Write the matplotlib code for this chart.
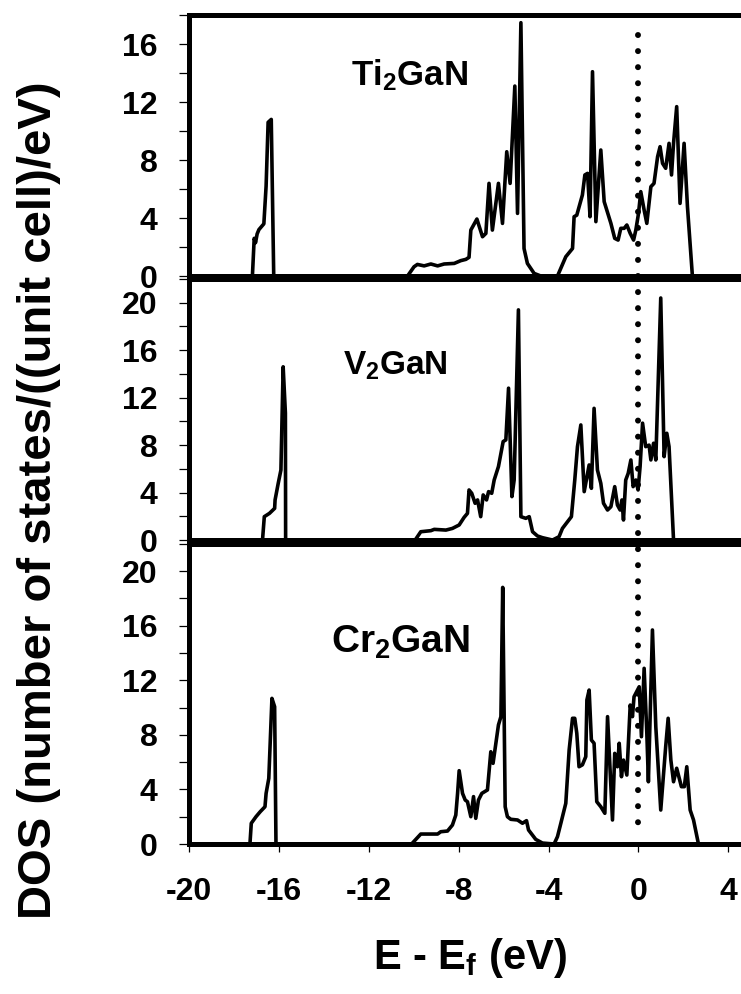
import matplotlib
matplotlib.use("Agg")
import matplotlib.pyplot as plt
from matplotlib.lines import Line2D
from matplotlib.ticker import MultipleLocator

plt.rcParams['font.family'] = ['Liberation Sans', 'DejaVu Sans']
plt.rcParams['font.weight'] = 'bold'
plt.rcParams['axes.unicode_minus'] = False
plt.rcParams['mathtext.fontset'] = 'custom'
plt.rcParams['mathtext.rm'] = 'Liberation Sans:bold'
plt.rcParams['mathtext.bf'] = 'Liberation Sans:bold'
plt.rcParams['mathtext.it'] = 'Liberation Sans:bold'
plt.rcParams['mathtext.default'] = 'regular'

# --- data (E - Ef in eV, DOS) ---
labels = ['Ti$_2$GaN', 'V$_2$GaN', 'Cr$_2$GaN']

e_ti = [-20, -17.19, -17.11, -17.05, -16.98, -16.9, -16.68, -16.58, -16.49, -16.35, -16.24,
        -10.28, -9.99, -9.84, -9.54, -9.24, -8.94, -8.65, -8.2, -7.91, -7.68,
        -7.54, -7.46, -7.19, -6.94, -6.79, -6.65, -6.5, -6.23, -6.05, -5.86,
        -5.71, -5.5, -5.38, -5.23, -5.09, -4.94, -4.64, -4.34, -3.6, -3.23,
        -2.93, -2.86, -2.74, -2.49, -2.38, -2.26, -2.15, -2.04, -1.89, -1.67,
        -1.52, -1.22, -1.05, -0.9, -0.78, -0.63, -0.51, -0.36, -0.21, -0.11,
        0.01, 0.11, 0.26, 0.38, 0.56, 0.7, 0.86, 0.97, 1.08, 1.22,
        1.37, 1.48, 1.57, 1.71, 1.86, 2.04, 2.19, 2.41, 4.6]
dos_ti = [0, 0, 2.6, 2.3, 2.9, 3.2, 3.6, 6.2, 10.6, 10.8, 0,
          0, 0.64, 0.8, 0.7, 0.83, 0.7, 0.83, 0.87, 1.06, 1.15,
          1.29, 3.17, 3.93, 2.71, 2.94, 6.39, 3.17, 6.39, 3.63, 8.57,
          6.39, 13.1, 4.32, 17.47, 1.9, 0.87, 0.18, 0, 0, 1.33,
          1.9, 4.09, 4.2, 5.59, 6.97, 7.08, 4.09, 14.09, 3.75, 8.69,
          5.13, 3.63, 2.6, 2.48, 3.29, 3.29, 3.52, 2.94, 2.48, 3.17,
          4.32, 5.82, 4.55, 3.63, 6.16, 6.39, 8.23, 8.92, 7.77, 7.43,
          9.15, 6.97, 9.15, 11.68, 5.01, 9.15, 4.78, 0, 0]

e_v = [-20, -16.74, -16.66, -16.43, -16.2, -16.18, -16.04, -15.92, -15.82, -15.72, -15.71,
       -9.94, -9.69, -9.24, -9.09, -8.57, -8.28, -7.98, -7.76, -7.61, -7.54,
       -7.42, -7.27, -7.16, -7.02, -6.91, -6.76, -6.67, -6.53, -6.42, -6.23,
       -6.02, -5.9, -5.78, -5.63, -5.53, -5.34, -5.23, -5.01, -4.86, -4.71,
       -4.49, -4.27, -3.82, -3.53, -3.38, -3.15, -2.98, -2.83, -2.71, -2.56,
       -2.41, -2.19, -2.09, -1.97, -1.82, -1.67, -1.55, -1.37, -1.22, -1.05,
       -0.93, -0.81, -0.73, -0.66, -0.56, -0.45, -0.33, -0.23, -0.11, -0.01,
       0.08, 0.19, 0.33, 0.48, 0.56, 0.68, 0.78, 1.0, 1.15, 1.27,
       1.37, 1.57, 4.6]
dos_v = [0, 0, 1.97, 2.25, 2.67, 3.38, 4.78, 5.9, 14.6, 10.7, 0,
         0, 0.7, 0.79, 0.9, 0.84, 0.98, 1.27, 1.91, 2.25, 4.22,
         3.94, 3.1, 3.38, 1.97, 3.8, 3.38, 4.08, 3.94, 5.06, 6.19,
         8.3, 8.44, 12.8, 3.66, 5.06, 19.4, 1.97, 1.83, 1.97, 0.7,
         0.34, 0.2, 0, 0.28, 0.98, 1.55, 1.97, 5.06, 7.87, 9.7,
         4.08, 6.33, 4.36, 11.1, 5.9, 4.78, 3.1, 2.53, 2.81, 4.5,
         2.95, 2.53, 3.38, 1.69, 5.06, 5.62, 6.75, 4.5, 5.06, 4.22,
         6.19, 9.85, 7.87, 8.0, 6.75, 8.16, 6.75, 20.4, 7.03, 9.0,
         7.87, 0, 0]

e_cr = [-20, -17.3, -17.24, -17.03, -16.84, -16.63, -16.58, -16.46, -16.32, -16.2, -16.14,
        -10.1, -9.69, -8.94, -8.8, -8.5, -8.28, -8.13, -8.05, -7.98, -7.83,
        -7.71, -7.61, -7.46, -7.34, -7.24, -7.12, -6.97, -6.72, -6.57, -6.47,
        -6.23, -6.12, -6.04, -5.93, -5.83, -5.68, -5.38, -5.16, -4.98, -4.89,
        -4.57, -4.27, -3.75, -3.6, -3.45, -3.23, -3.08, -2.93, -2.83, -2.74,
        -2.64, -2.49, -2.34, -2.29, -2.19, -2.09, -1.97, -1.85, -1.67, -1.49,
        -1.37, -1.15, -1.05, -0.93, -0.85, -0.75, -0.66, -0.51, -0.36, -0.26,
        -0.19, 0.04, 0.14, 0.26, 0.38, 0.45, 0.63, 0.78, 1.0, 1.15,
        1.22, 1.33, 1.45, 1.57, 1.71, 1.92, 2.05, 2.16, 2.31, 2.46,
        2.68, 4.6]
dos_cr = [0, 0, 1.52, 2.0, 2.37, 2.73, 3.71, 4.81, 10.67, 10.06, 0,
          0, 0.73, 0.73, 0.9, 0.95, 1.39, 2.12, 3.71, 5.37, 3.71,
          3.22, 3.1, 2.0, 3.47, 1.88, 3.22, 3.71, 3.96, 6.76, 5.91,
          8.72, 9.33, 18.8, 2.73, 2.0, 1.81, 1.76, 1.52, 1.71, 1.03,
          0.34, 0.07, 0, 0.54, 1.52, 2.98, 6.89, 9.21, 9.21, 8.11,
          5.66, 5.8, 6.4, 10.55, 11.28, 7.62, 7.38, 3.1, 2.73, 2.25,
          9.33, 1.76, 6.64, 5.66, 7.38, 4.93, 6.15, 5.05, 10.18, 9.33,
          10.79, 11.52, 7.86, 12.87, 8.11, 4.56, 15.68, 8.59, 2.49, 5.66,
          7.13, 9.21, 6.15, 4.56, 5.55, 4.2, 4.2, 5.66, 2.49, 1.76,
          0, 0]

energies = [e_ti, e_v, e_cr]
dos = [dos_ti, dos_v, dos_cr]
ymax = [18, 22, 22]

fig = plt.figure(figsize=(7.41, 9.94), dpi=100)

rects = [[0.2555, 0.7223, 0.7445, 0.2626],
         [0.2555, 0.4567, 0.7445, 0.2626],
         [0.2555, 0.1509, 0.7445, 0.3021]]
label_pos = [(0.553, 0.9145, 25), (0.533, 0.6227, 24), (0.540, 0.3431, 28)]

axes = []
for i in range(3):
    ax = fig.add_axes(rects[i])
    ax.plot(energies[i], dos[i], color='black', lw=2.6, solid_joinstyle='round')
    ax.set_xlim(-20, 4.575)
    ax.set_ylim(0, ymax[i])
    ax.yaxis.set_major_locator(MultipleLocator(4))
    ax.yaxis.set_minor_locator(MultipleLocator(2))
    ax.xaxis.set_major_locator(MultipleLocator(4))
    ax.tick_params(axis='y', which='both', direction='out', length=7, width=0.9, pad=16, labelsize=23)
    for s in ['top', 'bottom', 'left']:
        ax.spines[s].set_linewidth(3.6)
    ax.spines['right'].set_visible(False)
    if i < 2:
        ax.tick_params(axis='x', bottom=False, labelbottom=False)
    else:
        ax.tick_params(axis='x', direction='out', length=6, width=0.9, pad=18, labelsize=23)
    x, y, fs = label_pos[i]
    fig.text(x, y, labels[i], ha='center', va='baseline', fontsize=fs, fontweight='bold')
    axes.append(ax)

# dotted Fermi level line running through all panels
x0 = axes[2].transData.transform((0, 0))[0] / fig.bbox.width
fig.add_artist(Line2D([x0, x0], [0.9648, 0.1590], transform=fig.transFigure,
                      color='black', lw=4.3, linestyle=(0, (0.01, 2.68)),
                      dash_capstyle='round'))

fig.text(0.052, 0.497, 'DOS (number of states/((unit cell)/eV)', rotation=90,
         ha='center', va='center', fontsize=34, fontweight='bold')
fig.text(0.634, 0.036, 'E - E$_f$ (eV)', ha='center', va='center', fontsize=30, fontweight='bold')

fig.savefig('out.png', dpi=100)
